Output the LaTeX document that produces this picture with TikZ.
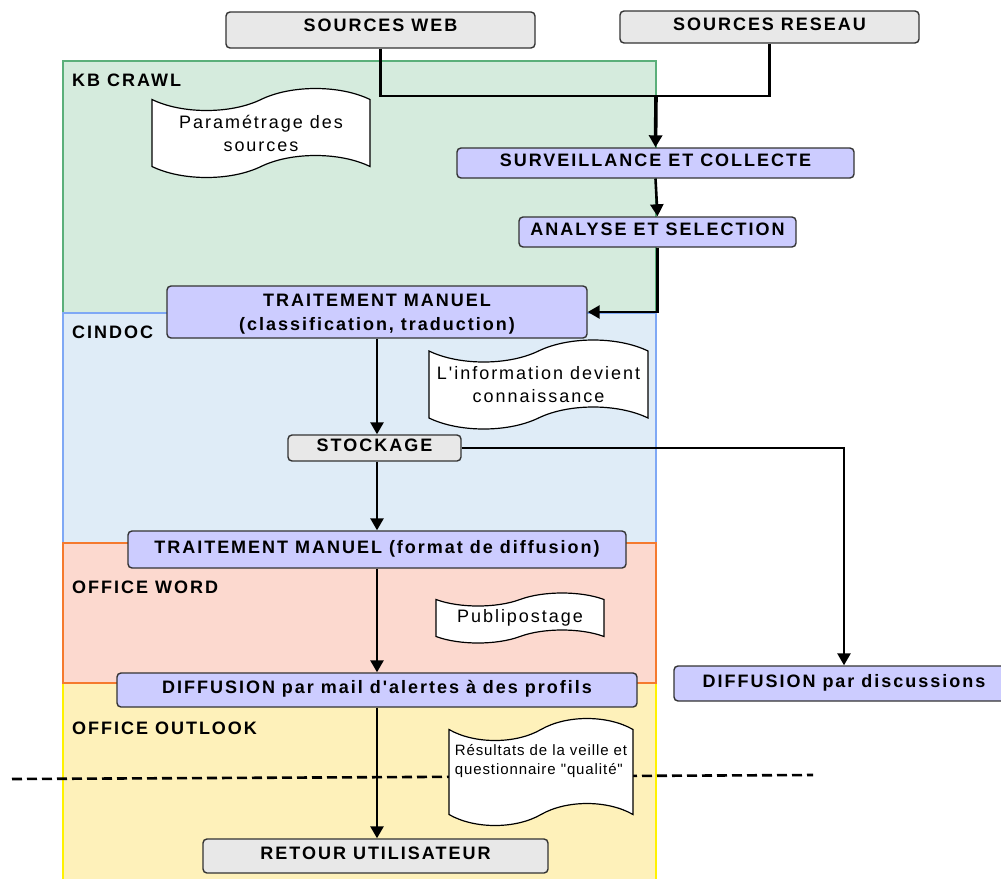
\documentclass[tikz,border=0pt]{standalone}
\usepackage{fontspec}
\setmainfont{Liberation Sans}
\newfontfamily\spacedfont{Liberation Sans}[LetterSpace=11]
\newfontfamily\smallspaced{Liberation Sans}[LetterSpace=6]
\usetikzlibrary{arrows.meta}
\usetikzlibrary{shapes.symbols}

\definecolor{boxblue}{HTML}{CCCCFF}
\definecolor{boxgray}{HTML}{E8E8E8}
\definecolor{kbfill}{HTML}{D5EBDD}
\definecolor{kbline}{HTML}{5BAF7A}
\definecolor{cinfill}{HTML}{DFECF7}
\definecolor{cinline}{HTML}{7FA8F5}
\definecolor{wordfill}{HTML}{FCD9CF}
\definecolor{wordline}{HTML}{F57A2E}
\definecolor{outlkfill}{HTML}{FEF1BA}
\definecolor{outlkline}{HTML}{FFF200}

\begin{document}
\begin{tikzpicture}[x=1pt,y=-1pt,
    etape/.style={draw=black!80, line width=1.4pt, rounded corners=4pt, fill=boxblue,
      font=\spacedfont\bfseries\fontsize{18}{24}\selectfont, inner sep=2pt,
      text height=13pt, text depth=6pt},
    source/.style={etape, fill=boxgray},
    zone/.style={font=\spacedfont\bfseries\fontsize{18}{24}\selectfont, inner sep=0pt, anchor=west},
    doc/.style={tape, draw=black, line width=1.2pt, fill=white, tape bend height=22pt,
      tape bend top=in and out, tape bend bottom=in and out,
      align=center, font=\spacedfont\fontsize{18}{23}\selectfont},
    fleche/.style={line width=2.6pt, -{Triangle[length=12pt,width=13pt]}},
    lien/.style={line width=2.6pt},
  ]
    \useasboundingbox (0,0) rectangle (1001,878);

    % zones
    \filldraw[fill=kbfill, draw=kbline, line width=1.2pt] (63,61) rectangle (656,313);
    \filldraw[fill=cinfill, draw=cinline, line width=1.2pt] (63,313) rectangle (656,543);
    \filldraw[fill=outlkfill, draw=outlkline, line width=1.6pt] (63,683) rectangle (656,890);
    \filldraw[fill=wordfill, draw=wordline, line width=1.2pt] (63,543) rectangle (656,683);

    \node[zone] (kb) at (72,80) {KB CRAWL};
    \node[zone] (cindoc) at (72,332) {CINDOC};
    \node[zone] (word) at (72,587) {OFFICE WORD};
    \node[zone] (outlook) at (72,728) {OFFICE OUTLOOK};

    % limite
    \coordinate (lim g) at (12,779);
    \coordinate (lim d) at (813,775);
    \draw[line width=2.6pt, dash pattern=on 10pt off 5pt] (lim g) -- (lim d);

    % documents
    \node[doc, minimum width=218pt, minimum height=89pt] (param) at (261,133) {Paramétrage des\\sources};
    \node[doc, minimum width=219pt, minimum height=89pt] (info) at (538.5,384.5) {L'information devient\\connaissance};
    \node[doc, minimum width=168pt, minimum height=50pt, tape bend height=13pt] (publi) at (520,618) {Publipostage};
    \node[doc, minimum width=184pt, minimum height=99pt, align=left, inner sep=4pt,
      font=\smallspaced\fontsize{15}{19}\selectfont, text height=30pt, text depth=25pt]
      (result) at (541,772) {Résultats de la veille et\\questionnaire "qualité"};

    % etapes
    \node[source, minimum width=309pt, minimum height=36pt, text depth=10pt] (web) at (380.5,30) {SOURCES WEB};
    \node[source, minimum width=299pt, minimum height=32pt] (reseau) at (769.5,27) {SOURCES RESEAU};
    \node[etape, minimum width=397pt, minimum height=30pt] (surv) at (655.5,163) {SURVEILLANCE ET COLLECTE};
    \node[etape, minimum width=277pt, minimum height=30pt] (analyse) at (657.5,232) {ANALYSE ET SELECTION};
    \node[etape, minimum width=420pt, minimum height=52pt, align=center, text height=40pt, text depth=3pt]
      (trait1) at (377,312) {TRAITEMENT MANUEL\\(classification, traduction)};
    \node[source, minimum width=173pt, minimum height=26pt] (stock) at (374.5,448) {STOCKAGE};
    \node[etape, minimum width=498pt, minimum height=37pt] (trait2) at (377,549.5) {TRAITEMENT MANUEL (format de diffusion)};
    \node[etape, minimum width=520pt, minimum height=34pt] (mail) at (377,690) {DIFFUSION par mail d'alertes à des profils};
    \node[etape, minimum width=340pt, minimum height=35pt] (disc) at (844,683.5) {DIFFUSION par discussions};
    \node[source, minimum width=345pt, minimum height=34pt] (retour) at (375.5,856) {RETOUR UTILISATEUR};

    % liens
    \coordinate (jonction) at (656,96);
    \draw[lien] (web.south) |- (jonction);
    \draw[lien] (reseau.south) |- (jonction);
    \draw[fleche, line width=3.6pt] (jonction) -- (surv.north);
    \draw[fleche] (surv.south) -- (analyse.north);
    \draw[fleche] (analyse.south) |- (trait1.east);
    \draw[fleche] (trait1.south) -- (trait1.south |- stock.north);
    \draw[fleche] (stock.east) -| (disc.north);
    \draw[fleche] (stock.south -| trait2.north) -- (trait2.north);
    \draw[fleche] (trait2.south) -- (mail.north);
    \draw[fleche] (mail.south) -- (mail.south |- retour.north);
\end{tikzpicture}
\end{document}
